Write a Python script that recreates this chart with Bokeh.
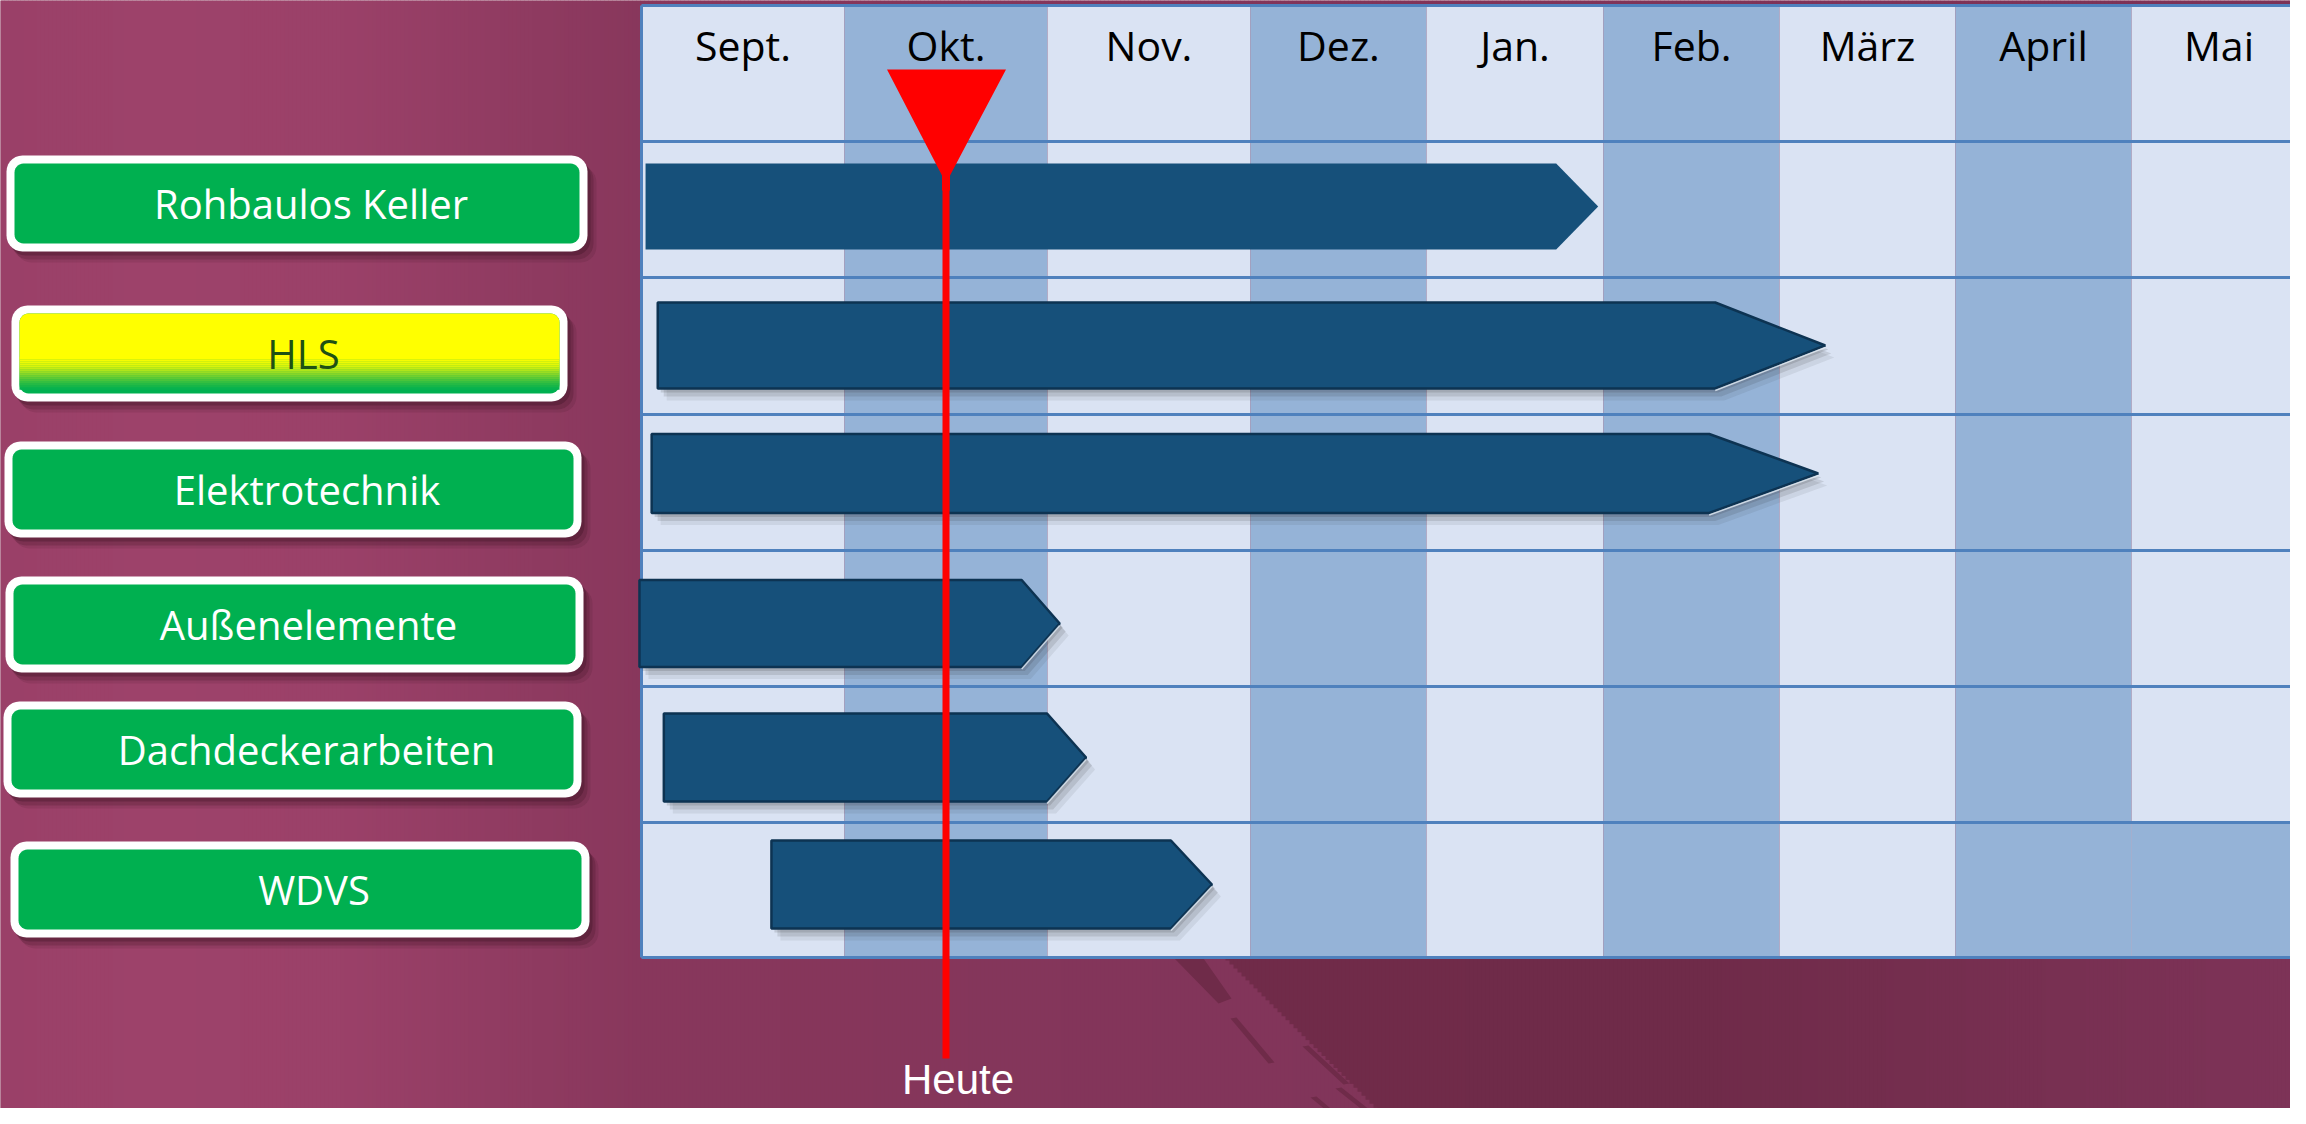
import numpy as np
from bokeh.plotting import figure
from bokeh.models import Range1d
from bokeh.core.properties import value
from bokeh.embed import file_html
from bokeh.resources import INLINE

# ---------------- data ----------------
months = ["Sept.", "Okt.", "Nov.", "Dez.", "Jan.", "Feb.", "März", "April", "Mai"]
tasks = ["Rohbaulos Keller", "HLS", "Elektrotechnik", "Außenelemente",
         "Dachdeckerarbeiten", "WDVS"]
# start / end (arrow tip) in months, 0 = beginning of "Sept."
task_start = [0.02, 0.08, 0.05, -0.01, 0.11, 0.64]
task_end = [4.97, 6.26, 6.22, 2.06, 2.19, 2.81]
task_status = ["ok", "warn", "ok", "ok", "ok", "ok"]
today = 1.50
today_label = "Heute"

# ---------------- layout / style ----------------
W, H, M = 2306, 1124, 8
PW, PH = W - 2 * M, H - 2 * M
table_left = 641
month_widths = [203, 203, 203, 176, 177, 176, 176, 176, 175]
header_top = 5
row_edges = [141, 277, 414, 550, 686, 822, 957]
bar_center_off = [65, 68, 59, 73, 71, 62]
bar_height = [86, 86, 79, 87, 88, 88]
tip_len = [42, 110, 109, 38, 39, 41]
bar_outlined = [False, True, True, True, True, True]
label_boxes = [(6, 155, 587, 251), (11, 305, 567, 401), (4, 441, 581, 537),
               (5, 576, 583, 672), (3, 701, 581, 797), (10, 841, 589, 937)]

LIGHT = "#DAE3F3"
DARK = "#95B3D7"
GRID = "#4F81BD"
BAR = "#16507A"
BAR_EDGE = "#0D3352"
GREEN = "#00B050"

edges = table_left + np.concatenate([[0], np.cumsum(month_widths)])


def mx(m):
    i = int(np.clip(np.floor(m), 0, len(month_widths) - 1))
    return float(edges[i] + (m - i) * month_widths[i])


def hexc(rgb):
    return "#%02x%02x%02x" % tuple(int(round(c)) for c in rgb)


def grad(stops, x):
    xs = [s[0] for s in stops]
    return tuple(np.interp(x, xs, [s[1][k] for s in stops]) for k in range(3))


def round_rect(x0, y0, x1, y1, r, top=True, bottom=True, n=8):
    xs, ys = [], []
    corners = [((x1 - r, y0 + r), -90, 0, top), ((x1 - r, y1 - r), 0, 90, bottom),
               ((x0 + r, y1 - r), 90, 180, bottom), ((x0 + r, y0 + r), 180, 270, top)]
    sq = [(x1, y0), (x1, y1), (x0, y1), (x0, y0)]
    for (c, a0, a1, rounded), s in zip(corners, sq):
        if rounded:
            for a in np.linspace(np.radians(a0), np.radians(a1), n):
                xs.append(c[0] + r * np.cos(a))
                ys.append(c[1] + r * np.sin(a))
        else:
            xs.append(s[0]); ys.append(s[1])
    return xs, ys


p = figure(width=PW, height=PH,
           x_range=Range1d(0, PW), y_range=Range1d(PH, 0),
           output_backend="svg", toolbar_location=None, min_border=0,
           x_axis_location=None, y_axis_location=None)
p.grid.visible = False
p.outline_line_color = None
p.background_fill_color = "#8a3a5e"
p.border_fill_color = "#8a3a5e"

# ---------------- background ----------------
base_stops = [(0, (154, 64, 104)), (150, (157, 66, 106)), (330, (155, 65, 105)),
              (640, (136, 55, 92)), (1200, (130, 53, 90)), (2306, (124, 50, 86))]
step = 4
bx = np.arange(0, W, step)
p.quad(left=bx, right=bx + step + 0.5, top=0, bottom=H,
       color=[hexc(grad(base_stops, x + step / 2)) for x in bx], line_width=0)

dark_stops = [(1225, (112, 43, 73)), (1700, (111, 43, 73)), (2306, (126, 51, 88))]
dx = np.arange(1225, W, step)
p.quad(left=dx, right=dx + step + 0.5, top=row_edges[-1],
       bottom=[min(H, row_edges[-1] + (x - 1225) * 0.995 + 3) for x in dx],
       color=[hexc(grad(dark_stops, x)) for x in dx], line_width=0)
streaks_x = [[1174, 1203, 1231, 1218], [1230, 1236, 1274, 1268], [1302, 1308, 1349, 1343],
             [1310, 1316, 1349, 1343], [1335, 1341, 1380, 1374]]
streaks_y = [[958, 958, 998, 1003], [1018, 1017, 1062, 1063], [1046, 1045, 1083, 1084],
             [1097, 1096, 1124, 1124], [1088, 1087, 1118, 1119]]
p.patches(streaks_x, streaks_y, color="#6f2b49", line_width=0)

# ---------------- table ----------------
p.quad(left=edges[:-1], right=edges[1:], top=header_top, bottom=row_edges[-1],
       color=[LIGHT if i % 2 == 0 else DARK for i in range(len(months))], line_width=0)
# last row: the "Mai" cell is shaded like April
p.quad(left=[edges[-2]], right=[edges[-1]], top=[row_edges[-2]], bottom=[row_edges[-1]],
       color=DARK, line_width=0)

hl_x = [[table_left, W] for _ in row_edges[:-1]]
hl_y = [[y, y] for y in row_edges[:-1]]
p.multi_line(hl_x, hl_y, line_color=GRID, line_width=3)
p.multi_line([[table_left, W], [table_left, W], [table_left, table_left]],
             [[header_top, header_top], [row_edges[-1], row_edges[-1]], [header_top, row_edges[-1]]],
             line_color=GRID, line_width=3)

centers = [(edges[i] + edges[i + 1]) / 2 for i in range(len(months))]
p.text(x=centers, y=[44] * len(months), text=months, text_font=value("Open Sans"),
       text_font_size="41px", text_align="center", text_baseline="middle",
       text_color="black")

# ---------------- bars ----------------
bxs, bys, sh_x, sh_y, hi_x, hi_y = [], [], [], [], [], []
for k in range(len(tasks)):
    x0 = mx(task_start[k]); xt = mx(task_end[k]); xb = xt - tip_len[k]
    cy = row_edges[k] + bar_center_off[k]; h = bar_height[k]
    t, b = cy - h / 2, cy + h / 2
    bxs.append([x0, xb, xt, xb, x0]); bys.append([t, t, cy, b, b])
    if bar_outlined[k]:
        sh_x.append([x0, xb, xt, xb, x0]); sh_y.append([t, t, cy, b, b])
        hi_x.append([xt, xb]); hi_y.append([cy + 2, b + 2])

for off, a in [((3, 4), 0.14), ((6, 8), 0.12), ((9, 12), 0.08)]:
    p.patches([[v + off[0] for v in xs] for xs in sh_x],
              [[v + off[1] for v in ys] for ys in sh_y],
              color="#222222", alpha=a, line_width=0)
p.patches([bxs[k] for k in range(len(tasks)) if not bar_outlined[k]],
          [bys[k] for k in range(len(tasks)) if not bar_outlined[k]],
          fill_color=BAR, line_color=None)
p.patches([bxs[k] for k in range(len(tasks)) if bar_outlined[k]],
          [bys[k] for k in range(len(tasks)) if bar_outlined[k]],
          fill_color=BAR, line_color=BAR_EDGE, line_width=2.5)
p.multi_line(hi_x, hi_y, line_color="#E4ECF5", line_width=1.5, line_alpha=0.8)

# ---------------- task labels ----------------
for k, (x0, y0, x1, y1) in enumerate(label_boxes):
    for off, a in [((3, 4), 0.25), ((6, 8), 0.18), ((9, 11), 0.1)]:
        sx, sy = round_rect(x0 + off[0], y0 + off[1], x1 + off[0], y1 + off[1], 16)
        p.patch(sx, sy, color="#2a0a18", alpha=a, line_width=0)
    ox, oy = round_rect(x0, y0, x1, y1, 16)
    p.patch(ox, oy, color="white", line_width=0)
    ix0, iy0, ix1, iy1 = x0 + 8, y0 + 8, x1 - 8, y1 - 8
    gx, gy = round_rect(ix0, iy0, ix1, iy1, 9)
    p.patch(gx, gy, color=GREEN, line_width=0)
    if task_status[k] == "warn":
        ymid = iy0 + 0.55 * (iy1 - iy0)
        yx, yy = round_rect(ix0, iy0, ix1, ymid + 1, 9, bottom=False)
        p.patch(yx, yy, color="#FFFF00", line_width=0)
        gstops = [(0, (255, 255, 0)), (0.25, (220, 245, 10)), (0.5, (140, 215, 40)),
                  (0.78, (50, 190, 65)), (1.0, (0, 176, 80))]
        ys_ = np.arange(ymid, iy1 - 5, 2.0)
        span = (iy1 - 5) - ymid
        p.quad(left=ix0, right=ix1, top=ys_, bottom=ys_ + 2.3,
               color=[hexc(grad(gstops, (y - ymid) / span)) for y in ys_], line_width=0)

lab_x = [(b[0] + b[2]) / 2 + 14 for b in label_boxes]
lab_y = [(b[1] + b[3]) / 2 for b in label_boxes]
lab_c = ["#1E5014" if s == "warn" else "white" for s in task_status]
p.text(x=lab_x, y=lab_y, text=tasks, text_font=value("Open Sans"), text_font_size="40px",
       text_align="center", text_baseline="middle", text_color=lab_c)

# ---------------- today marker ----------------
tx = mx(today)
p.line([tx, tx], [175, 1058], line_color="#FF0000", line_width=7)
p.patch([tx - 59, tx + 60, tx + 4, tx + 4, tx - 4, tx - 4],
        [69, 69, 175, 190, 190, 175], color="#FF0000", line_width=0)
p.text(x=[tx + 12], y=[1079], text=[today_label], text_font=value("Liberation Sans"),
       text_font_size="42px", text_align="center", text_baseline="middle",
       text_color="white")

open("out.html", "w").write(file_html(p, INLINE))
